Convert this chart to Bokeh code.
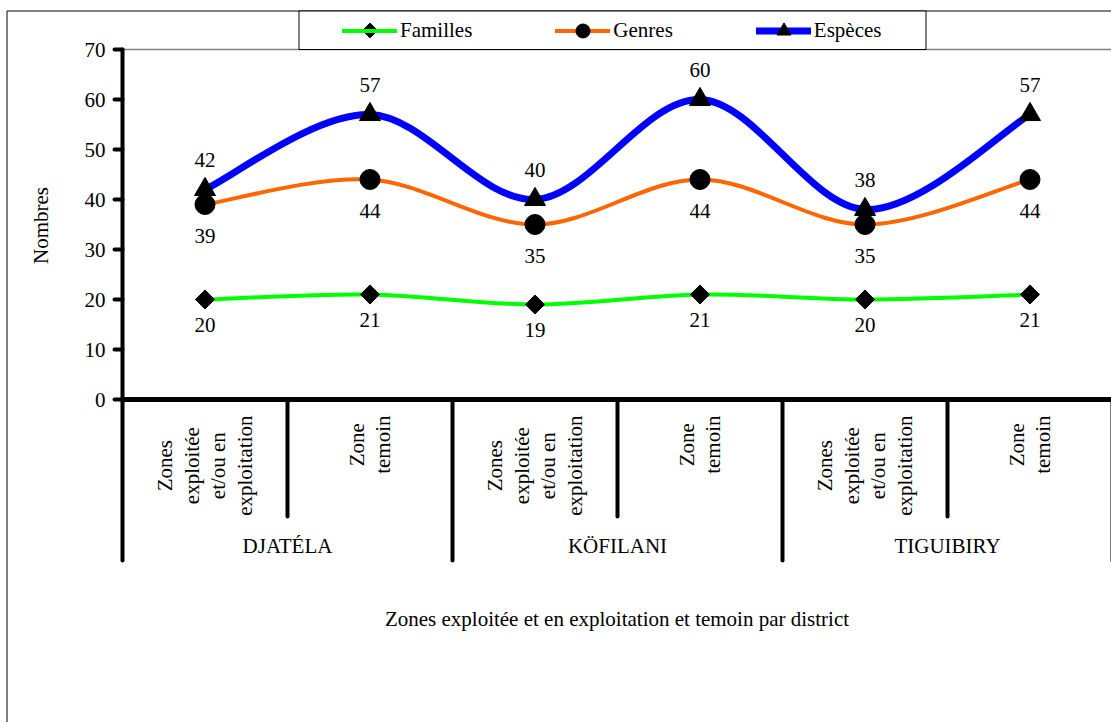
import numpy as np
from bokeh.plotting import figure
from bokeh.models import (Range1d, LinearAxis, FixedTicker, BoxAnnotation, Label,
                          Legend, LegendItem, Grid)
from bokeh.core.properties import value
from bokeh.embed import file_html
from bokeh.resources import INLINE

# ---- data -------------------------------------------------------------
districts = ["DJATÉLA", "KÖFILANI", "TIGUIBIRY"]
zones = ["Zones\nexploitée\net/ou en\nexploitation", "Zone\ntemoin"]
series_names = ["Familles", "Genres", "Espèces"]
familles = [20, 21, 19, 21, 20, 21]
genres = [39, 44, 35, 44, 35, 44]
especes = [42, 57, 40, 60, 38, 57]
y_ticks = [0, 10, 20, 30, 40, 50, 60, 70]

x_title = "Zones exploitée et en exploitation et temoin par district"
y_title = "Nombres"

# ---- layout constants ------------------------------------------------
FONT = "Liberation Serif"
FS = "21px"
W, H = 1111, 722
LEFT = 122            # pixel column of the value axis
ZERO_PX = 399         # pixel row of value 0
AXIS_BOTTOM_PX = 560  # lower end of the value axis / district separators
CAT_PX = 165          # width of one category slot
PX_PER_UNIT = 5.0     # vertical scale

n = len(familles)
k = len(zones)
xs = np.arange(1, n + 1, dtype=float)          # category centres
x_start = 0.5 - LEFT / CAT_PX
x_end = 0.5 + (W - LEFT) / CAT_PX
y_start = -(H - ZERO_PX) / PX_PER_UNIT
y_end = ZERO_PX / PX_PER_UNIT
y_axis_low = -(AXIS_BOTTOM_PX - ZERO_PX) / PX_PER_UNIT

p = figure(width=W, height=H,
           x_range=Range1d(x_start, x_end), y_range=Range1d(y_start, y_end),
           x_axis_location=None, y_axis_location=None,
           toolbar_location=None, output_backend="svg",
           min_border=0)
p.center = [r for r in p.center if not isinstance(r, Grid)]
p.outline_line_color = None
p.background_fill_color = "white"
p.border_fill_color = "white"

# ---- axes -------------------------------------------------------------
yaxis = LinearAxis(fixed_location=0.5, bounds=(y_axis_low, y_ticks[-1]),
                   ticker=FixedTicker(ticks=y_ticks, minor_ticks=[]),
                   axis_line_width=4, axis_line_color="black", axis_line_cap="round",
                   major_tick_out=8, major_tick_in=0, major_tick_line_width=4,
                   major_tick_line_cap="round", major_tick_line_color="black",
                   minor_tick_out=0, minor_tick_in=0,
                   major_label_standoff=9,
                   major_label_text_font=FONT, major_label_text_font_size=FS,
                   major_label_text_color="black")
p.add_layout(yaxis, "left")

xaxis = LinearAxis(fixed_location=0, bounds=(0.5, x_end + 0.1),
                   ticker=FixedTicker(ticks=[], minor_ticks=[]),
                   axis_line_width=5, axis_line_color="black",
                   major_tick_line_color=None, minor_tick_line_color=None,
                   major_tick_out=0, major_tick_in=0, minor_tick_out=0, minor_tick_in=0,
                   major_label_text_font_size="0px")
p.add_layout(xaxis, "below")

# top edge of the plotting area
p.segment(x0=[0.5], y0=[y_ticks[-1]], x1=[x_end + 0.1], y1=[y_ticks[-1]],
          line_color="#808080", line_width=1.5)

# category / district separators below the axis
bounds = xs + 0.5
is_district_end = (np.arange(n) % k) == k - 1
short_b = bounds[~is_district_end]
long_b = bounds[is_district_end]
short_end = -117 / PX_PER_UNIT
p.segment(x0=short_b, y0=0, x1=short_b, y1=short_end, line_color="black",
          line_width=4, line_cap="round")
p.segment(x0=long_b, y0=0, x1=long_b, y1=y_axis_low, line_color="black",
          line_width=4, line_cap="round")

# category labels (rotated) and district labels
zone_labels = zones * len(districts)
p.text(x=xs, y=0, text=zone_labels, angle=np.pi / 2, y_offset=16,
       anchor="center_right", text_align="center", text_baseline="middle",
       text_font=value(FONT), text_font_size=value(FS), text_color="black",
       text_line_height=1.12)
district_x = xs.reshape(len(districts), k).mean(axis=1)
p.text(x=district_x, y=0, text=districts, y_offset=146,
       text_align="center", text_baseline="middle",
       text_font=value(FONT), text_font_size=value(FS), text_color="black")

# ---- smoothed series ---------------------------------------------------
def bezier_parts(xv, yv):
    x = np.asarray(xv, float)
    y = np.asarray(yv, float)
    xp = np.concatenate([[x[0]], x, [x[-1]]])
    yp = np.concatenate([[y[0]], y, [y[-1]]])
    m = len(x) - 1
    i = np.arange(m)
    cx0 = xp[i + 1] + (xp[i + 2] - xp[i]) / 6
    cy0 = yp[i + 1] + (yp[i + 2] - yp[i]) / 6
    cx1 = xp[i + 2] - (xp[i + 3] - xp[i + 1]) / 6
    cy1 = yp[i + 2] - (yp[i + 3] - yp[i + 1]) / 6
    return dict(x0=x[:-1], y0=y[:-1], x1=x[1:], y1=y[1:],
                cx0=cx0, cy0=cy0, cx1=cx1, cy1=cy1)

styles = [
    (familles, "#00FF00", 4, "square", 13.5, np.pi / 4, 25),
    (genres, "#FF6600", 4, "circle", 20, 0, 31),
    (especes, "#0000FF", 7, "triangle", 21, 0, -30),
]

lines, marks = [], []
for vals, color, lw, *_ in styles:
    lines.append(p.bezier(**bezier_parts(xs, vals), line_color=color,
                          line_width=lw, line_cap="round"))
for vals, color, lw, marker, size, ang, off in styles:
    marks.append(p.scatter(xs, vals, marker=marker, size=size, angle=ang,
                           fill_color="black", line_color="black"))
    p.text(x=xs, y=vals, text=[str(v) for v in vals], y_offset=off,
           text_align="center", text_baseline="middle",
           text_font=value(FONT), text_font_size=value(FS), text_color="black")

# ---- frames, legend, titles ---------------------------------------------
p.add_layout(BoxAnnotation(left=6.5, right=W + 20, top=10.5, bottom=H + 20,
                           left_units="canvas", right_units="canvas",
                           top_units="canvas", bottom_units="canvas",
                           fill_alpha=0, line_color="black", line_alpha=1,
                           line_width=1))
p.add_layout(BoxAnnotation(left=298.5, right=925.5, top=10.5, bottom=49,
                           left_units="canvas", right_units="canvas",
                           top_units="canvas", bottom_units="canvas",
                           fill_color="white", fill_alpha=1,
                           line_color="black", line_alpha=1, line_width=1))

glyph_w, glyph_h = 55, 35
legend_left, legend_top = 342, 12.5
# the Familles key keeps its line; its diamond is drawn on top (legend keys are unrotated)
legend_renderers = [[lines[0]], [lines[1], marks[1]], [lines[2], marks[2]]]
legend = Legend(items=[LegendItem(label=nm, renderers=rs)
                       for nm, rs in zip(series_names, legend_renderers)],
                orientation="horizontal",
                location=(legend_left, H - legend_top - glyph_h),
                padding=0, margin=0, spacing=83, glyph_width=glyph_w, glyph_height=glyph_h,
                label_standoff=3, label_text_font=FONT, label_text_font_size=FS,
                label_text_color="black", border_line_color=None,
                background_fill_alpha=0)
p.add_layout(legend)

key_x = x_start + (legend_left + glyph_w / 2) / CAT_PX
key_y = (ZERO_PX - (legend_top + glyph_h / 2)) / PX_PER_UNIT
p.scatter([key_x], [key_y], marker="square", size=10.5, angle=np.pi / 4,
          fill_color="black", line_color="black", level="overlay")

p.add_layout(Label(x=40, y=225, x_units="canvas", y_units="canvas", text=y_title,
                   angle=np.pi / 2, text_align="center", text_baseline="middle",
                   text_font=FONT, text_font_size=FS, text_color="black"))
p.add_layout(Label(x=(LEFT + W) / 2, y=618, x_units="canvas", y_units="canvas",
                   text=x_title, text_align="center", text_baseline="middle",
                   text_font=FONT, text_font_size=FS, text_color="black"))

open("out.html", "w").write(file_html(p, INLINE))
